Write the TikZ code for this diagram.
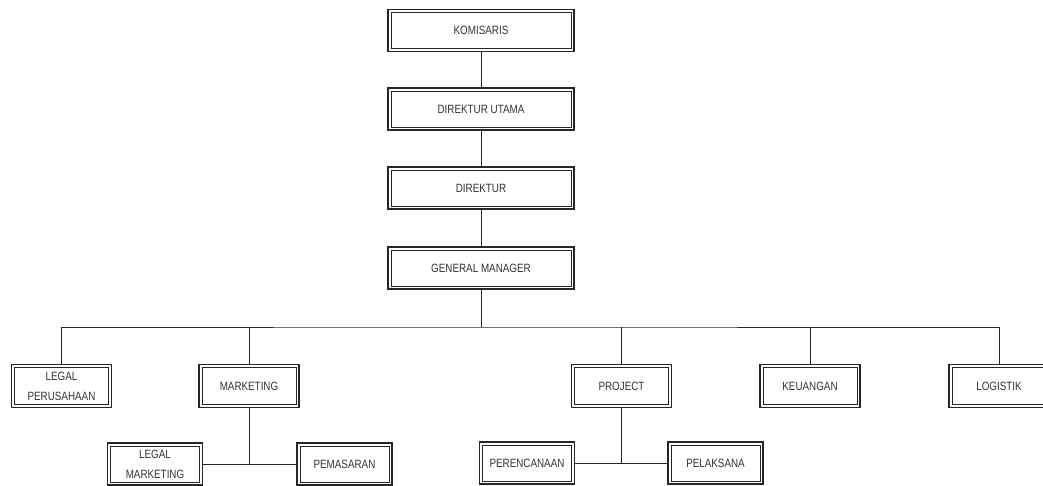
\documentclass[tikz,border=0pt]{standalone}
\usepackage{fontspec}
\newfontfamily\narrowfont[FakeStretch=0.82]{Liberation Sans}
\begin{document}
\begin{tikzpicture}[x=1pt,y=-1pt,
  box/.style={draw=black!85, line width=1.2pt, fill=white, inner sep=0pt, align=center,
    text=black!80, font=\narrowfont\fontsize{12}{20}\selectfont,
    path picture={\draw[black!85, line width=0.6pt]
      ([shift={(3pt,-3pt)}]path picture bounding box.north west) rectangle
      ([shift={(-3pt,3pt)}]path picture bounding box.south east);}},
  top/.style={box, minimum width=186pt, minimum height=42pt},
  mid/.style={box, minimum width=100pt, minimum height=43pt},
  low/.style={box, minimum width=95pt, minimum height=42pt},
  conn/.style={draw=black!85, line width=1pt}]
\useasboundingbox (0,0) rectangle (1043,486);
\node[top] (kom) at (481,30.5) {KOMISARIS};
\node[top] (du) at (481,109) {DIREKTUR UTAMA};
\node[top] (dir) at (481,188) {DIREKTUR};
\node[top] (gm) at (481,268) {GENERAL MANAGER};
\coordinate (bus) at (481,327);
\node[mid] (lp) at (61.5,386) {LEGAL\\PERUSAHAAN};
\node[mid] (mkt) at (249,386) {MARKETING};
\node[mid] (prj) at (621.5,386) {PROJECT};
\node[mid] (keu) at (810,386) {KEUANGAN};
\node[mid] (log) at (999,386) {LOGISTIK};
\node[low] (lm) at (155,464) {LEGAL\\MARKETING};
\node[low] (pem) at (344.5,464) {PEMASARAN};
\node[low] (per) at (527,463) {PERENCANAAN};
\node[low] (pel) at (715.5,463) {PELAKSANA};
\draw[conn] (kom) -- (du);
\draw[conn] (du) -- (dir);
\draw[conn] (dir) -- (gm);
\draw[conn] (gm.south) -- (bus);
\draw[conn] (lp.north) |- (bus) -| (log.north);
\draw[conn] (mkt.north) -- (mkt.north |- bus);
\draw[conn] (prj.north) -- (prj.north |- bus);
\draw[conn] (keu.north) -- (keu.north |- bus);
\draw[conn] (mkt.south) -- (mkt.south |- lm.east);
\draw[conn] (lm.east) -- (pem.west);
\draw[conn] (prj.south) -- (prj.south |- per.east);
\draw[conn] (per.east) -- (pel.west);
\end{tikzpicture}
\end{document}
